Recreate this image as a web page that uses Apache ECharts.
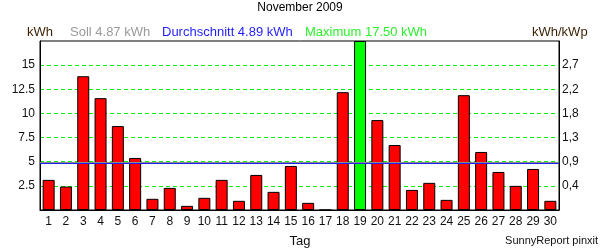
<!DOCTYPE html>
<html><head><meta charset="utf-8">
<script src="https://cdn.jsdelivr.net/npm/echarts@6/dist/echarts.min.js"></script>
<style>html,body{margin:0;padding:0;background:#fff}#c{width:600px;height:250px}</style>
</head><body><div id="c"></div>
<script>
const days = ['1','2','3','4','5','6','7','8','9','10','11','12','13','14','15','16','17','18','19','20','21','22','23','24','25','26','27','28','29','30'];
const energy = [3.12,2.43,13.85,11.58,8.69,5.39,1.16,2.29,0.43,1.26,3.12,0.95,3.63,1.88,4.56,0.74,0,12.2,17.5,9.31,6.73,2.08,2.81,1.05,11.89,6.01,3.94,2.5,4.25,0.95];
const leftTickLabels = ['', '2.5', '5', '7.5', '10', '12.5', '15', ''];
const rightTickLabels = ['', '0,4', '0,9', '1,3', '1,8', '2,2', '2,7', ''];
const soll = 4.87;
const avg = 4.89;
const maxVal = 17.5;

const FONT = 'Liberation Sans, Arial, sans-serif';
const chart = echarts.init(document.getElementById('c'), null, {renderer:'canvas'});
const tIdx = v => Math.round(v / 2.5);
const ts = (size, color) => ({fontSize: size, fontWeight: 'normal', color: color, fontFamily: FONT});
chart.setOption({
  animation: false,
  backgroundColor: '#fff',
  textStyle: {fontFamily: FONT},
  title: [
    {text: 'November 2009', left: 'center', top: 2, padding: 0, textStyle: ts(12, '#000')},
    {text: 'kWh', left: 27, top: 26, padding: 0, textStyle: ts(13, '#3a1f00')},
    {text: 'Soll ' + soll.toFixed(2) + ' kWh', left: 70, top: 26, padding: 0, textStyle: ts(13, '#9a9a9a')},
    {text: 'Durchschnitt ' + avg.toFixed(2) + ' kWh', left: 162, top: 26, padding: 0, textStyle: ts(13, '#1e1eff')},
    {text: 'Maximum ' + maxVal.toFixed(2) + ' kWh', left: 305, top: 26, padding: 0, textStyle: ts(13, '#2ef02e')},
    {text: 'kWh/kWp', left: 532, top: 26, padding: 0, textStyle: ts(13, '#3a1f00')},
    {text: 'Tag', left: 'center', top: 235, padding: 0, textStyle: ts(13, '#111')},
    {text: 'SunnyReport pinxit', right: 2, top: 235, padding: 0, textStyle: ts(11, '#111')}
  ],
  grid: {left: 40, right: 41, top: 41, bottom: 40, show: true, borderColor: '#000', borderWidth: 1, backgroundColor: 'transparent'},
  xAxis: {
    type: 'category', data: days, boundaryGap: true,
    axisLine: {show: true, lineStyle: {color: '#000', width: 1}},
    axisTick: {show: false},
    splitLine: {show: false},
    axisLabel: {fontSize: 12, color: '#111', margin: 6, interval: 0, fontFamily: FONT}
  },
  yAxis: [
    {
      type: 'value', min: 0, max: 17.5, interval: 2.5, position: 'left',
      axisLine: {show: true, lineStyle: {color: '#000'}},
      axisTick: {show: false},
      axisLabel: {fontSize: 12, color: '#111', margin: 5, fontFamily: FONT, formatter: v => leftTickLabels[tIdx(v)] || ''},
      splitLine: {show: true, showMinLine: false, showMaxLine: false, lineStyle: {color: '#00ee00', type: [4,3], width: 1}}
    },
    {
      type: 'value', min: 0, max: 17.5, interval: 2.5, position: 'right',
      axisLine: {show: true, lineStyle: {color: '#000'}},
      axisTick: {show: false},
      axisLabel: {fontSize: 12, color: '#111', margin: 3, fontFamily: FONT, formatter: v => rightTickLabels[tIdx(v)] || ''},
      splitLine: {show: false}
    }
  ],
  series: [{
    type: 'bar', data: energy, barWidth: 12, yAxisIndex: 0,
    itemStyle: {
      color: p => p.value === maxVal ? '#00ff00' : '#ff0000',
      borderColor: '#000', borderWidth: 1
    },
    markLine: {
      silent: true, symbol: 'none', label: {show: false}, animation: false, precision: 3,
      data: [
        {yAxis: soll, lineStyle: {color: '#8a8a8a', width: 2, type: 'solid'}},
        {yAxis: avg, lineStyle: {color: '#1e1eff', width: 1, type: 'solid'}}
      ]
    }
  }]
});
</script></body></html>
